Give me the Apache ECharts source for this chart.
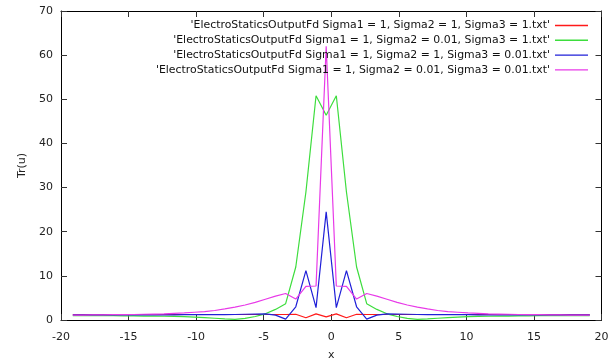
<!DOCTYPE html>
<html>
<head>
<meta charset="utf-8">
<script src="https://cdn.jsdelivr.net/npm/echarts@6/dist/echarts.min.js"></script>
<style>html,body{margin:0;padding:0;background:#fff}#c{width:613px;height:362px}</style>
</head>
<body>
<div id="c"></div>
<script>
const xs = [-19.125, -18.375, -17.625, -16.875, -16.125, -15.375, -14.625, -13.875, -13.125, -12.375,
  -11.625, -10.875, -10.125, -9.375, -8.625, -7.875, -7.125, -6.375, -5.625, -4.875,
  -4.125, -3.375, -2.625, -1.875, -1.125, -0.375, 0.375, 1.125, 1.875, 2.625,
  3.375, 4.125, 4.875, 5.625, 6.375, 7.125, 7.875, 8.625, 9.375, 10.125,
  10.875, 11.625, 12.375, 13.125, 13.875, 14.625, 15.375, 16.125, 16.875, 17.625,
  18.375, 19.125];

const seriesNames = [
  "'ElectroStaticsOutputFd Sigma1 = 1, Sigma2 = 1, Sigma3 = 1.txt'",
  "'ElectroStaticsOutputFd Sigma1 = 1, Sigma2 = 0.01, Sigma3 = 1.txt'",
  "'ElectroStaticsOutputFd Sigma1 = 1, Sigma2 = 1, Sigma3 = 0.01.txt'",
  "'ElectroStaticsOutputFd Sigma1 = 1, Sigma2 = 0.01, Sigma3 = 0.01.txt'"
];

const red = [1.25, 1.25, 1.25, 1.25, 1.25, 1.25, 1.25, 1.25, 1.25, 1.25,
  1.25, 1.25, 1.25, 1.25, 1.25, 1.25, 1.25, 1.25, 1.25, 1.25,
  1.25, 1.25, 1.3, 0.5, 1.4, 0.7, 1.4, 0.5, 1.3, 1.25,
  1.25, 1.25, 1.25, 1.25, 1.25, 1.25, 1.25, 1.25, 1.25, 1.25,
  1.25, 1.25, 1.25, 1.25, 1.25, 1.25, 1.25, 1.25, 1.25, 1.25,
  1.25, 1.25];

const green = [1.0, 1.0, 1.0, 1.0, 1.0, 0.95, 0.95, 0.9, 0.9, 0.85,
  0.8, 0.75, 0.65, 0.55, 0.4, 0.25, 0.15, 0.35, 0.8, 1.4,
  2.4, 3.7, 12, 29, 50.8, 46.4, 50.8, 29, 12, 3.7,
  2.4, 1.4, 0.8, 0.35, 0.15, 0.25, 0.4, 0.55, 0.65, 0.75,
  0.8, 0.85, 0.9, 0.9, 0.95, 0.95, 1.0, 1.0, 1.0, 1.0,
  1.0, 1.0];

const blue = [1.15, 1.15, 1.15, 1.15, 1.15, 1.15, 1.15, 1.15, 1.15, 1.15,
  1.15, 1.2, 1.2, 1.2, 1.2, 1.2, 1.25, 1.3, 1.35, 1.4,
  1.1, 0.2, 3.0, 11.2, 2.8, 24.5, 2.8, 11.2, 3.0, 0.2,
  1.1, 1.4, 1.35, 1.3, 1.25, 1.2, 1.2, 1.2, 1.2, 1.2,
  1.15, 1.15, 1.15, 1.15, 1.15, 1.15, 1.15, 1.15, 1.15, 1.15,
  1.15, 1.15];

const magenta = [1.1, 1.1, 1.15, 1.15, 1.2, 1.2, 1.25, 1.3, 1.35, 1.4,
  1.5, 1.6, 1.75, 1.9, 2.15, 2.5, 2.9, 3.4, 4.0, 4.7,
  5.4, 6.0, 4.75, 7.6, 7.7, 62, 7.7, 7.6, 4.75, 6.0,
  5.4, 4.7, 4.0, 3.4, 2.9, 2.5, 2.15, 1.9, 1.75, 1.6,
  1.5, 1.4, 1.35, 1.3, 1.25, 1.2, 1.2, 1.15, 1.15, 1.1,
  1.1, 1.1];

const xTicks = {min: -20, max: 20, interval: 5};
const yTicks = {min: 0, max: 70, interval: 10};

const colors = ['#ff1a1a', '#3ddd3d', '#2020d8', '#e83ae8'];
const values = [red, green, blue, magenta];

const FONT = 'DejaVu Sans';

const chart = echarts.init(document.getElementById('c'), null, {renderer: 'canvas'});

function axisCommon(extra) {
  return Object.assign({
    type: 'value',
    axisLine: {show: true, onZero: false, lineStyle: {color: '#000', width: 1}},
    axisTick: {show: true, inside: true, length: 6, lineStyle: {color: '#333'}},
    splitLine: {show: false},
    axisLabel: {color: '#222', fontFamily: FONT, fontSize: 11}
  }, extra);
}

chart.setOption({
  animation: false,
  backgroundColor: '#fff',
  color: colors,
  grid: {left: 61, right: 11.5, top: 11, bottom: 42, containLabel: false, outerBoundsMode: 'none'},
  legend: {
    orient: 'vertical',
    right: 20,
    top: 15,
    align: 'right',
    icon: 'rect',
    itemWidth: 33,
    itemHeight: 1.4,
    itemGap: 3.8,
    textStyle: {fontFamily: FONT, fontSize: 10.9, color: '#111'},
    data: seriesNames
  },
  xAxis: [
    axisCommon(Object.assign({}, xTicks, {
      position: 'bottom',
      name: 'x', nameLocation: 'middle', nameGap: 30,
      nameTextStyle: {fontFamily: FONT, fontSize: 11, color: '#222'},
      axisLabel: {color: '#222', fontFamily: FONT, fontSize: 11, margin: 12}
    })),
    axisCommon(Object.assign({}, xTicks, {position: 'top', axisLabel: {show: false}}))
  ],
  yAxis: [
    axisCommon(Object.assign({}, yTicks, {
      position: 'left',
      name: 'Tr(u)', nameLocation: 'middle', nameGap: 25, nameRotate: 90,
      nameTextStyle: {fontFamily: FONT, fontSize: 11, color: '#222'},
      axisLabel: {color: '#222', fontFamily: FONT, fontSize: 11, margin: 8}
    })),
    axisCommon(Object.assign({}, yTicks, {position: 'right', axisLabel: {show: false}}))
  ],
  series: seriesNames.map((n, k) => ({
    name: n,
    type: 'line',
    xAxisIndex: 0,
    yAxisIndex: 0,
    symbol: 'none',
    lineStyle: {width: 1.2, color: colors[k]},
    itemStyle: {color: colors[k]},
    data: xs.map((x, i) => [x, values[k][i]])
  }))
});
</script>
</body>
</html>
